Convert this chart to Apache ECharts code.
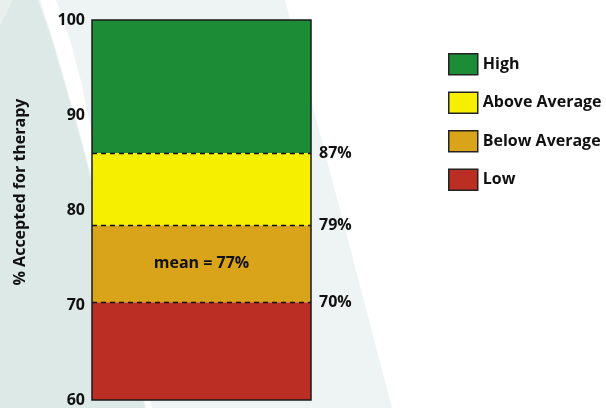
<!DOCTYPE html>
<html>
<head>
<meta charset="utf-8">
<script src="https://cdn.jsdelivr.net/npm/echarts@6/dist/echarts.min.js"></script>
<style>
html,body{margin:0;padding:0;background:#fff;}
#c{width:606px;height:408px;}
</style>
</head>
<body>
<div id="c"></div>
<script>
// ---- data ----
var categories = [''];
var bandNames = ['Low', 'Below Average', 'Above Average', 'High'];
var bandColors = ['#bb2e24', '#d9a31a', '#f6f000', '#1c8d36'];
var lowValues = [70.3];
var belowAvgValues = [8.1];
var aboveAvgValues = [7.6];
var highValues = [14.0];
var cutValues = [70.3, 78.4, 86.0];
var cutLabels = ['70%', '79%', '87%'];
var meanLabel = 'mean = 77%';
var yTicks = [60, 70, 80, 90, 100];
var yAxisTitle = '% Accepted for therapy';

var FONT = '"Open Sans", "DejaVu Sans", sans-serif';
var chart = echarts.init(document.getElementById('c'), null, {renderer: 'canvas'});

var seriesValues = [lowValues, belowAvgValues, aboveAvgValues, highValues];
var series = bandNames.map(function (name, i) {
  var s = {
    name: name,
    type: 'bar',
    stack: 'bands',
    barWidth: '100%',
    data: seriesValues[i],
    itemStyle: {color: bandColors[i]},
    silent: true,
    z: 2
  };
  if (name === 'Below Average') {
    s.label = {
      show: true, position: 'inside', formatter: meanLabel,
      fontFamily: FONT, fontWeight: 'bold', fontSize: 16, color: '#111'
    };
  }
  if (i === 3) {
    s.markLine = {
      silent: true,
      symbol: 'none',
      lineStyle: {type: [5, 4], color: '#111', width: 1.3},
      label: {
        show: true, position: 'end', distance: 8,
        fontFamily: FONT, fontWeight: 'bold', fontSize: 16, color: '#111',
        formatter: function (p) { return cutLabels[p.dataIndex]; }
      },
      data: cutValues.map(function (v) { return {yAxis: v}; }),
      z: 4
    };
  }
  return s;
});

var option = {
  backgroundColor: '#fff',
  animation: false,
  graphic: [
    {type: 'polygon', z: -10, silent: true,
     shape: {points: [[0,0],[285,0],[392,408],[0,408]]},
     style: {fill: '#eef4f3'}},
    {type: 'polygon', z: -9, silent: true,
     shape: {points: [[0,0],[38,0],[52,40],[65,85],[78,130],[90,175],[145,408],[0,408]]},
     style: {fill: '#dde9e6'}},
    {type: 'polygon', z: -9, silent: true,
     shape: {points: [[40,0],[56,0],[70,40],[82,85],[91,130],[98,170],[152,408],[146,408],[91,175],[79,130],[66,85],[53,40]]},
     style: {fill: '#ffffff'}},
    {type: 'polygon', z: -8, silent: true,
     shape: {points: [[0,0],[13,0],[0,26]]},
     style: {fill: '#e8efed'}},
    {type: 'text', silent: true, x: 20, y: 192, rotation: Math.PI / 2,
     style: {text: yAxisTitle, fontFamily: FONT, fontWeight: 'bold', fontSize: 16,
             fill: '#111', align: 'center', verticalAlign: 'middle'}}
  ],
  grid: {
    left: 92, right: 295, top: 20, bottom: 6,
    show: true, borderColor: '#1a1a1a', borderWidth: 1.5,
    backgroundColor: 'transparent', z: 5
  },
  legend: {
    orient: 'vertical',
    left: 448, top: 53, padding: 0,
    itemWidth: 29, itemHeight: 21, itemGap: 16,
    data: bandNames.slice().reverse(),
    textStyle: {fontFamily: FONT, fontWeight: 'bold', fontSize: 16, color: '#111'},
    itemStyle: {borderColor: '#222', borderWidth: 1.5},
    selectedMode: false,
    icon: 'rect'
  },
  xAxis: {
    type: 'category',
    data: categories,
    axisLine: {show: false},
    axisTick: {show: false},
    axisLabel: {show: false}
  },
  yAxis: {
    type: 'value',
    min: yTicks[0], max: yTicks[yTicks.length - 1], interval: 10,
    axisLine: {show: false},
    axisTick: {show: false},
    splitLine: {show: false},
    axisLabel: {
      margin: 7, fontFamily: FONT, fontWeight: 'bold', fontSize: 16, color: '#111'
    }
  },
  series: series
};
chart.setOption(option);
</script>
</body>
</html>
